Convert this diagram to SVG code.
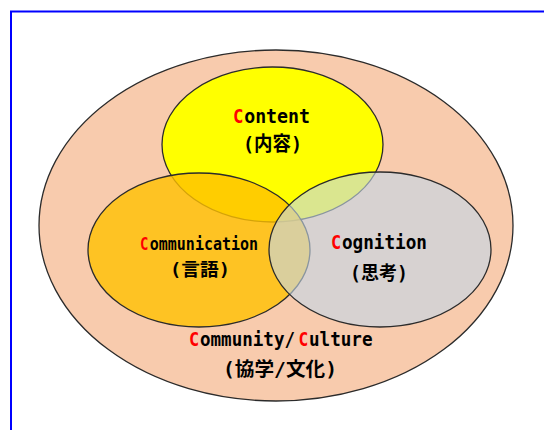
<svg xmlns="http://www.w3.org/2000/svg" width="544" height="430" viewBox="0 0 544 430">
<style>
.lat{font-family:"DejaVu Sans Mono","Liberation Mono",monospace;font-weight:bold;fill:#000}
.cjk{font-family:"DejaVu Sans Mono","Noto Sans CJK JP",monospace;font-weight:bold;fill:#000;text-anchor:middle}
.r{fill:#FF0000}
.e{stroke:#2b2b2b;stroke-width:1.3}
</style>
<rect width="544" height="430" fill="#fff"/>
<path d="M11,430 V11.5 H544" fill="none" stroke="#0000FF" stroke-width="2"/>
<g id="community">
<ellipse class="e" cx="276" cy="225.5" rx="237" ry="175.5" fill="#F8CBAD" stroke-width="1.6"/>
</g>
<g id="content">
<ellipse class="e" cx="272.5" cy="144.5" rx="110.5" ry="77.5" fill="#FFFF00"/>
</g>
<g id="communication">
<ellipse class="e" cx="199" cy="250" rx="111" ry="77" fill="#FFC000" fill-opacity="0.8"/>
</g>
<g id="cognition">
<ellipse class="e" cx="380" cy="249.5" rx="111" ry="77.5" fill="rgb(195,214,230)" fill-opacity="0.62"/>
</g>
<g id="connectors"></g>
<g id="labels">
<text class="lat r" x="233" y="123" font-size="20" textLength="10.5" lengthAdjust="spacingAndGlyphs">C</text>
<text class="lat" x="244.2" y="123" font-size="20" textLength="65.8" lengthAdjust="spacingAndGlyphs">ontent</text>
<text class="cjk" x="272.5" y="151" font-size="20" textLength="59" lengthAdjust="spacingAndGlyphs">(内容)</text>
<text class="lat r" x="140" y="250" font-size="18" textLength="8.4" lengthAdjust="spacingAndGlyphs">C</text>
<text class="lat" x="149.8" y="250" font-size="18" textLength="108.2" lengthAdjust="spacingAndGlyphs">ommunication</text>
<text class="cjk" x="200" y="276" font-size="18" textLength="60" lengthAdjust="spacingAndGlyphs">(言語)</text>
<text class="lat r" x="331" y="249" font-size="19.5" textLength="10.2" lengthAdjust="spacingAndGlyphs">C</text>
<text class="lat" x="341.9" y="249" font-size="19.5" textLength="85.1" lengthAdjust="spacingAndGlyphs">ognition</text>
<text class="cjk" x="379" y="280" font-size="19" textLength="58" lengthAdjust="spacingAndGlyphs">(思考)</text>
<text class="lat r" x="189" y="346" font-size="20" textLength="10.2" lengthAdjust="spacingAndGlyphs">C</text>
<text class="lat" x="200" y="346" font-size="20" textLength="95" lengthAdjust="spacingAndGlyphs">ommunity/</text>
<text class="lat r" x="298.4" y="346" font-size="20" textLength="9.8" lengthAdjust="spacingAndGlyphs">C</text>
<text class="lat" x="309" y="346" font-size="20" textLength="63.5" lengthAdjust="spacingAndGlyphs">ulture</text>
<text class="cjk" x="280" y="376" font-size="19" textLength="114" lengthAdjust="spacingAndGlyphs">(協学/文化)</text>
</g>
</svg>
